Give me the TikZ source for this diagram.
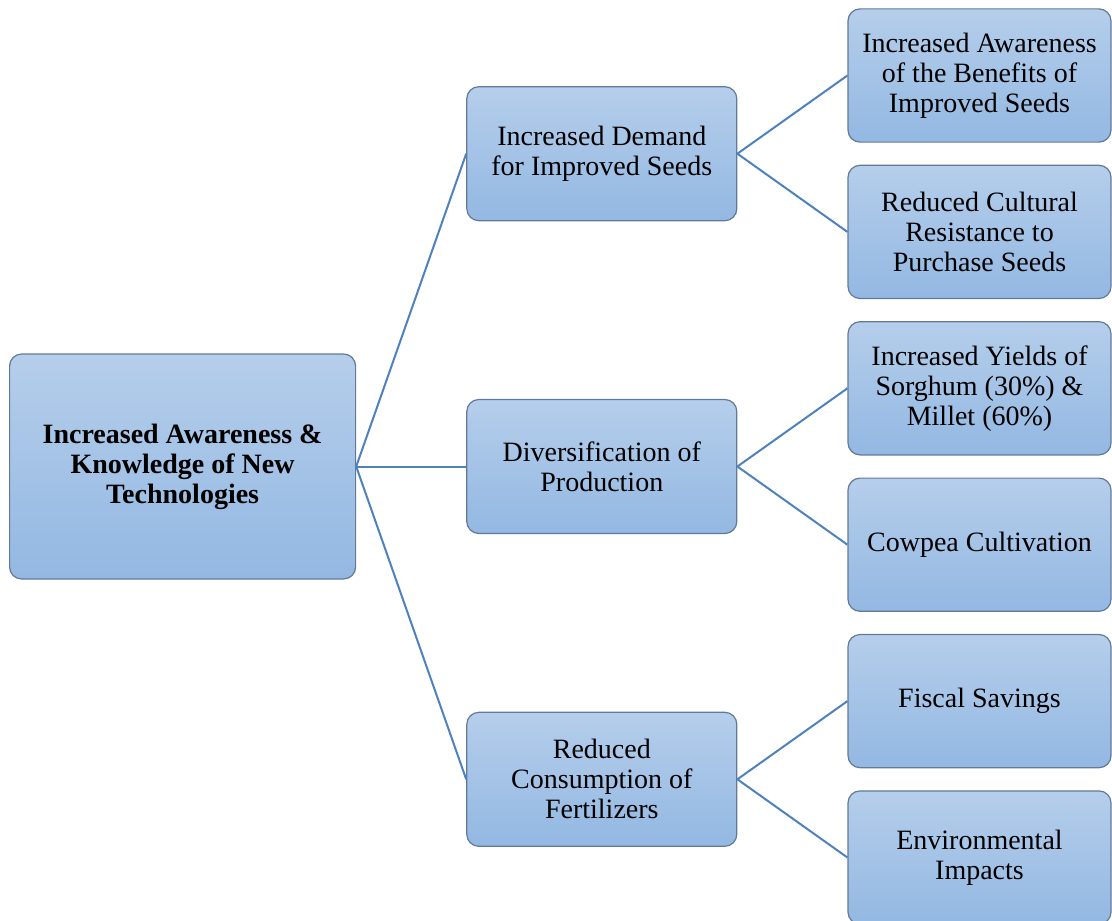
\documentclass[tikz,border=0pt]{standalone}
\usepackage{fontspec}
\setmainfont{Liberation Serif}
\usetikzlibrary{calc}
\usetikzlibrary{positioning}
\definecolor{boxtop}{RGB}{181,206,235}
\definecolor{boxbottom}{RGB}{147,184,226}
\definecolor{boxline}{RGB}{98,122,152}
\definecolor{linkline}{RGB}{79,129,189}
\tikzset{
  every picture/.style={font={\fontsize{14}{15}\selectfont}},
  every edge/.style={draw, linkline, line width=1pt}}

\begin{document}
\begin{tikzpicture}[node distance=11pt and 55pt,
    box/.style={draw=boxline, line width=0.6pt, rounded corners=6pt,
      top color=boxtop, bottom color=boxbottom, align=center, inner sep=2pt},
    leaf/.style={box, minimum width=131.5pt, minimum height=66.6pt},
    branch/.style={box, minimum width=135pt, minimum height=67pt},
    root/.style={box, minimum width=173pt, minimum height=112.5pt,
      font={\fontsize{14}{15}\selectfont\bfseries}}]

    \useasboundingbox (0,0) rectangle (556pt,-460pt);

    \begin{scope}
      \node[leaf] (LA) at (489.75pt,-37.75pt) {Increased Awareness\\of the Benefits of\\Improved Seeds};
      \node[leaf] (LB) [below=of LA] {Reduced Cultural\\Resistance to\\Purchase Seeds};
      \node[leaf] (LC) [below=of LB] {Increased Yields of\\Sorghum (30\%) \&\\Millet (60\%)};
      \node[leaf] (LD) [below=of LC] {Cowpea Cultivation};
      \node[leaf] (LE) [below=of LD] {Fiscal Savings};
      \node[leaf] (LF) [below=of LE] {Environmental\\Impacts};
    \end{scope}

    \begin{scope}
      \coordinate (PA) at ($(LA.west)!0.5!(LB.west)$);
      \coordinate (PB) at ($(LC.west)!0.5!(LD.west)$);
      \coordinate (PC) at ($(LE.west)!0.5!(LF.west)$);
      \node[branch] (MA) [left=of PA] {Increased Demand\\for Improved Seeds};
      \node[branch] (MB) [left=of PB] {Diversification of\\Production};
      \node[branch] (MC) [left=of PC] {Reduced\\Consumption of\\Fertilizers};
    \end{scope}

    \node[root] (RT) [left=of MB] {Increased Awareness \&\\Knowledge of New\\Technologies};

    \path (RT.east) edge (MA.west) edge (MB.west) edge (MC.west);

    \path (MA.east) edge (LA.west) edge (LB.west);
    \path (MB.east) edge (LC.west) edge (LD.west);
    \path (MC.east) edge (LE.west) edge (LF.west);
  \end{tikzpicture}
\end{document}
